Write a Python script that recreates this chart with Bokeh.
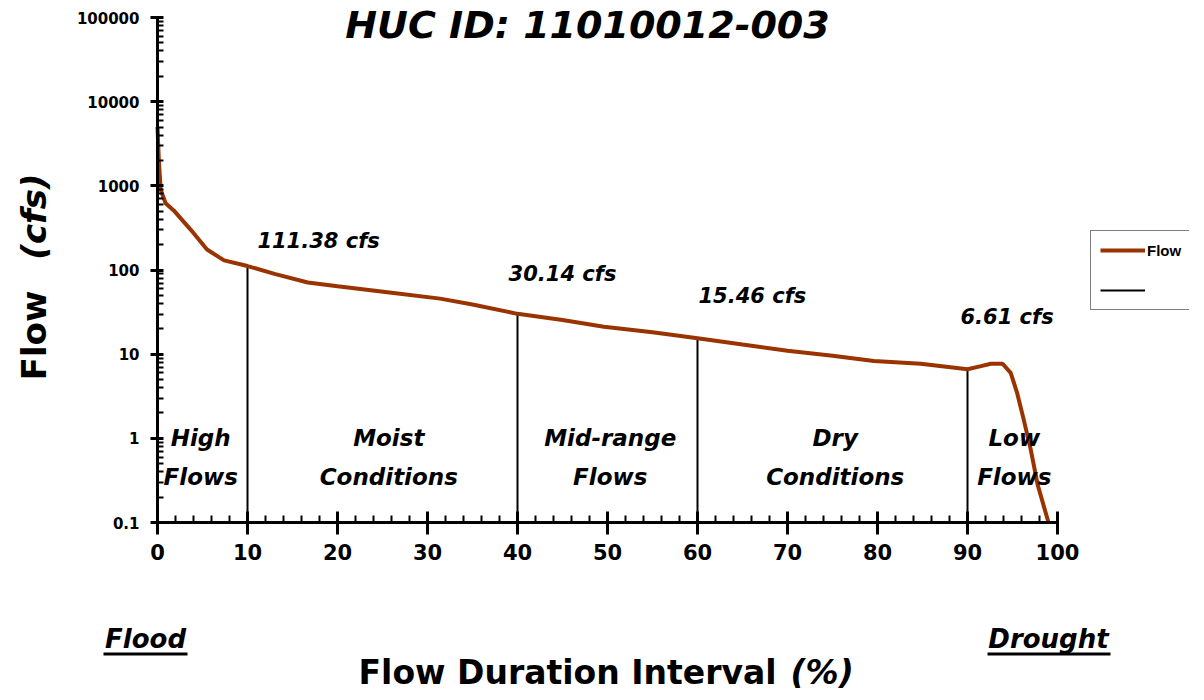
import math
from bokeh.plotting import figure
from bokeh.models import (Range1d, FixedTicker, Label, Legend, LegendItem,
                          BoxAnnotation, BasicTickFormatter)
from bokeh.core.properties import value
from bokeh.embed import file_html
from bokeh.resources import INLINE

# ---------------- data ----------------
pct = [0, 0.15, 0.35, 0.9, 1.8, 3.7, 5.5, 7.4, 10, 13, 16.7, 20, 26, 31.4, 35,
       40, 45, 49.6, 55, 60, 65, 70, 75, 79.6, 84.8, 90, 91.5, 92.6, 93.9,
       94.8, 95.5, 96.2, 97, 97.8, 99]
flow = [5000, 2000, 900, 620, 510, 300, 175, 130, 111.38, 90, 71, 64, 53.8,
        45.7, 39, 30.14, 25.5, 21.2, 18.2, 15.46, 13.0, 11.0, 9.6, 8.3, 7.7,
        6.61, 7.2, 7.7, 7.7, 6.0, 3.5, 1.75, 0.76, 0.28, 0.1]

div_pct = [10, 40, 60, 90]
div_flow = [111.38, 30.14, 15.46, 6.61]
div_labels = ["111.38 cfs", "30.14 cfs", "15.46 cfs", "6.61 cfs"]

zone_line1 = ["High", "Moist", "Mid-range", "Dry", "Low"]
zone_line2 = ["Flows", "Conditions", "Flows", "Conditions", "Flows"]

x_ticks = [0, 10, 20, 30, 40, 50, 60, 70, 80, 90, 100]
x_minor = list(range(0, 101, 2))
y_ticks = [0.1, 1, 10, 100, 1000, 10000, 100000]
y_minor = [k * 10.0 ** e for e in range(-1, 5) for k in range(2, 10)]

title_text = "HUC ID: 11010012-003"
ylabel_a, ylabel_b = "Flow", "(cfs)"
xlabel_a, xlabel_b = "Flow Duration Interval", "(%)"
left_note, right_note = "Flood", "Drought"

# ---------------- layout / style ----------------
W, H = 1189, 692
FONT = "DejaVu Sans"
BROWN = "#993300"
X_MIN, X_MAX = 0, 100
Y_MIN, Y_MAX = 0.1, 100000

# axes box position on the canvas (pixels)
AX_L, AX_R, AX_T, AX_B = 157, 1057, 17, 522
ppx = (AX_R - AX_L) / (X_MAX - X_MIN)
ppd = (AX_B - AX_T) / (math.log10(Y_MAX) - math.log10(Y_MIN))
x_range = Range1d(X_MIN - AX_L / ppx, X_MIN + (W - AX_L) / ppx)
y_range = Range1d(10 ** (math.log10(Y_MIN) - (H - AX_B) / ppd),
                  10 ** (math.log10(Y_MAX) + AX_T / ppd))

p = figure(width=W, height=H, x_range=x_range, y_range=y_range,
           y_axis_type="log", output_backend="svg", toolbar_location=None,
           min_border=0)
p.outline_line_color = None
p.xgrid.visible = False
p.ygrid.visible = False
p.background_fill_color = "white"
p.border_fill_color = "white"


def sx(px):
    return px


def sy(py):
    return H - py


xa = p.xaxis[0]
xa.fixed_location = Y_MIN
xa.bounds = (X_MIN, X_MAX)
xa.ticker = FixedTicker(ticks=x_ticks, minor_ticks=x_minor)
xa.axis_line_width = 3
xa.axis_line_color = "black"
xa.major_tick_line_width = 3
xa.major_tick_line_color = "black"
xa.minor_tick_line_width = 2
xa.minor_tick_line_color = "black"
xa.major_tick_in = 11
xa.major_tick_out = 12
xa.minor_tick_in = 7
xa.minor_tick_out = 0
xa.major_label_text_font = FONT
xa.major_label_text_font_size = "21px"
xa.major_label_text_font_style = "bold"
xa.major_label_text_color = "black"
xa.major_label_standoff = 9

ya = p.yaxis[0]
ya.fixed_location = X_MIN
ya.bounds = (Y_MIN, Y_MAX)
ya.ticker = FixedTicker(ticks=y_ticks, minor_ticks=y_minor)
ya.formatter = BasicTickFormatter(use_scientific=False)
ya.axis_line_width = 3
ya.axis_line_color = "black"
ya.major_tick_line_width = 3
ya.major_tick_line_color = "black"
ya.minor_tick_line_width = 2
ya.minor_tick_line_color = "black"
ya.major_tick_in = 6
ya.major_tick_out = 7
ya.minor_tick_in = 6
ya.minor_tick_out = 0
ya.major_label_text_font = FONT
ya.major_label_text_font_size = "15px"
ya.major_label_text_font_style = "bold"
ya.major_label_text_color = "black"
ya.major_label_standoff = 11

# dividers and curve
dividers = p.segment(x0=div_pct, y0=[Y_MIN] * len(div_pct), x1=div_pct,
                     y1=div_flow, line_color="black", line_width=2)
curve = p.line(pct, flow, line_color=BROWN, line_width=4)

# value labels above dividers
lab_x = [17.9, 45.0, 66.1, 94.4]
lab_y = [219, 90.8, 49.7, 27.9]
p.text(x=lab_x, y=lab_y, text=div_labels, text_font=value(FONT),
       text_font_size="21px", text_font_style="bold italic",
       text_align="center", text_baseline="middle", text_color="black")

# zone labels
zone_x = [4.8, 25.7, 50.3, 75.3, 95.2]
p.text(x=zone_x, y=[1.0] * 5, text=zone_line1, text_font=value(FONT),
       text_font_size="23px", text_font_style="bold italic",
       text_align="center", text_baseline="middle", text_color="black")
p.text(x=zone_x, y=[0.344] * 5, text=zone_line2, text_font=value(FONT),
       text_font_size="23px", text_font_style="bold italic",
       text_align="center", text_baseline="middle", text_color="black")


def label(text, px, py, size, style, align="center", angle=0.0):
    p.add_layout(Label(x=sx(px), y=sy(py), x_units="screen", y_units="screen",
                       text=text, text_font=FONT, text_font_size=size,
                       text_font_style=style, text_align=align,
                       text_baseline="middle", text_color="black",
                       angle=angle))


# title
label(title_text, 587, 24, "38px", "bold italic")

# y-axis label (rotated)
label(ylabel_a, 33, 335, "34px", "bold", angle=math.pi / 2)
label(ylabel_b, 33, 216, "34px", "bold italic", angle=math.pi / 2)

# x-axis label
label(xlabel_a, 776, 672, "33px", "bold", align="right")
label(xlabel_b, 790, 672, "33px", "bold italic", align="left")

# Flood / Drought notes with underline
label(left_note, 145, 638, "26px", "bold italic")
label(right_note, 1048, 638, "26px", "bold italic")
for l, r in [(103, 187), (987, 1110)]:
    p.add_layout(BoxAnnotation(left=sx(l), right=sx(r), bottom=sy(655),
                               top=sy(652), left_units="screen",
                               right_units="screen", bottom_units="screen",
                               top_units="screen", fill_color="black",
                               fill_alpha=1, line_color=None))

# legend
legend = Legend(items=[LegendItem(label="Flow", renderers=[curve]),
                       LegendItem(label=" ", renderers=[dividers])],
                location=(sx(1090), sy(310)))
legend.border_line_color = "black"
legend.border_line_width = 1.5
legend.background_fill_color = "white"
legend.background_fill_alpha = 1
legend.padding = 9
legend.spacing = 20
legend.margin = 0
legend.glyph_width = 45
legend.glyph_height = 20
legend.label_height = 20
legend.label_standoff = 2
legend.label_text_font = "Liberation Sans"
legend.label_text_font_size = "15px"
legend.label_text_font_style = "bold"
legend.label_text_color = "black"
p.add_layout(legend)

open("out.html", "w").write(file_html(p, INLINE))
